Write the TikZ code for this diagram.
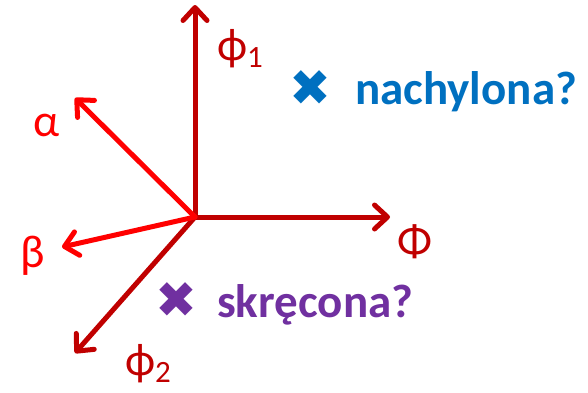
\documentclass[tikz,border=0pt]{standalone}
\usepackage{fontspec}
\setmainfont{Carlito}
\newfontfamily\symfont{DejaVu Sans}
\usetikzlibrary{arrows.meta}
\definecolor{axDark}{RGB}{192,0,0}
\definecolor{axRed}{RGB}{255,0,0}
\definecolor{qBlue}{RGB}{0,112,192}
\definecolor{qPurple}{RGB}{112,48,160}
\newcommand{\lowsub}[1]{{\fontsize{31}{31}\selectfont\raisebox{-7pt}{#1}}}

\begin{document}
\begin{tikzpicture}[
    x=1pt, y=-1pt,
    axis/.style={line width=5pt, line cap=round,
                 -{Straight Barb[length=13pt, width=24pt, line cap=round, line join=round]}},
    lbl/.style={font=\fontsize{46}{46}\selectfont, inner sep=0pt},
    xmark/.style={font=\symfont\fontsize{50}{50}\selectfont, inner sep=0pt},
    question/.style={font=\fontsize{47}{47}\selectfont\bfseries,
                     anchor=base west, inner sep=0pt}
]
\useasboundingbox (0,0) rectangle (588,392);

% Axes
\coordinate (o) at (195,217);
\coordinate (phi1) at (195,5);
\coordinate (Phi) at (390,217);
\coordinate (alpha) at (75,98);
\coordinate (beta) at (62,247);
\coordinate (phi2) at (75,353);
\draw[axis, axDark] (o) -- (phi1);
\draw[axis, axDark] (o) -- (Phi);
\draw[axis, axDark] (o) -- (phi2);
\draw[axis, axRed] (o) -- (alpha);
\draw[axis, axRed] (o) -- (beta);

% Axis labels
\node[lbl, axDark] (phi1 label) at (240,49) {ϕ\lowsub{1}};
\node[lbl, axDark] (Phi label) at (415,242) {Φ};
\node[lbl, axDark] (phi2 label) at (148,364) {ϕ\lowsub{2}};
\node[lbl, axRed] (alpha label) at (47,125) {α};
\node[lbl, axRed] (beta label) at (33,256) {β};

% Questions
\node[xmark, qBlue] (tilt mark) at (310,88) {✖};
\node[question, qBlue] (tilt) at (355,104) {nachylona?};
\node[xmark, qPurple] (twist mark) at (176,300) {✖};
\node[question, qPurple] (twist) at (217,317) {skręcona?};
\end{tikzpicture}
\end{document}
